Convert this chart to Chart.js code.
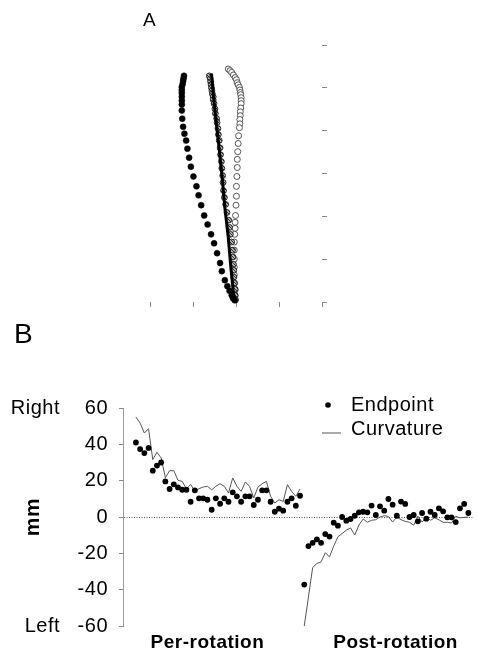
<!DOCTYPE html>
<html><head><meta charset="utf-8">
<script src="https://cdn.jsdelivr.net/npm/chart.js@4.4.0/dist/chart.umd.min.js"></script>
<style>
html,body{margin:0;padding:0;background:#fff;width:477px;height:651px;overflow:hidden;}
.lbl{position:absolute;font-family:'Liberation Sans',Arial,sans-serif;color:#000;line-height:1;}
#boxA{position:absolute;left:0;top:0;width:477px;height:320px;}
#boxB{position:absolute;left:0;top:330px;width:477px;height:321px;}
</style></head><body>
<div id="boxA"><canvas id="chartA" width="477" height="320"></canvas></div>
<div id="boxB"><canvas id="chartB" width="477" height="321"></canvas></div>
<div class="lbl" style="left:143px;top:10px;font-size:19px;">A</div>
<div class="lbl" style="left:14px;top:320px;font-size:28px;">B</div>
<script>
// ---------- Panel A: hand paths ----------
const filledX = [0.79,0.78,0.77,0.76,0.74,0.74,0.74,0.74,0.74,0.74,0.74,0.75,0.77,0.80,0.84,0.87,0.91,0.95,1.01,1.08,1.13,1.19,1.26,1.34,1.42,1.49,1.56,1.63,1.67,1.74,1.80,1.85,1.90,1.93,1.97];
const filledY = [5.28,5.22,5.16,5.09,5.02,4.95,4.88,4.79,4.70,4.61,4.47,4.28,4.09,3.93,3.77,3.58,3.37,3.16,2.93,2.70,2.49,2.26,2.02,1.81,1.58,1.37,1.14,0.91,0.72,0.51,0.37,0.26,0.16,0.09,0.04];
const hatchedX = [1.38,1.40,1.41,1.42,1.43,1.44,1.45,1.47,1.47,1.49,1.51,1.52,1.55,1.56,1.58,1.59,1.61,1.63,1.64,1.66,1.67,1.69,1.70,1.71,1.73,1.76,1.79,1.83,1.85,1.87,1.90,1.92,1.93,1.94,1.95,1.95,1.96,1.98,1.98,1.99];
const hatchedY = [5.28,5.21,5.14,5.07,5.00,4.93,4.86,4.79,4.72,4.63,4.51,4.40,4.28,4.19,4.05,3.91,3.77,3.60,3.44,3.28,3.12,2.95,2.79,2.60,2.44,2.28,2.09,1.91,1.74,1.58,1.40,1.21,1.05,0.88,0.74,0.58,0.44,0.30,0.16,0.05];
const openX = [1.82,1.86,1.90,1.94,1.98,2.01,2.03,2.05,2.08,2.09,2.10,2.11,2.12,2.12,2.12,2.11,2.10,2.10,2.09,2.09,2.08,2.06,2.05,2.04,2.03,2.03,2.02,2.01,2.01,2.00,1.99,1.98,1.98,1.97,1.96,1.96,1.96,1.96,1.96,1.97,1.98,1.98];
const openY = [5.44,5.40,5.36,5.30,5.24,5.19,5.12,5.07,5.01,4.95,4.89,4.84,4.77,4.70,4.63,4.53,4.44,4.35,4.26,4.16,4.07,3.88,3.70,3.51,3.33,3.14,2.93,2.70,2.47,2.26,2.02,1.86,1.72,1.58,1.40,1.21,1.00,0.81,0.63,0.44,0.28,0.14];
const pathX = [1.43,1.47,1.57,1.67,1.74,1.82,1.88,1.94,1.97];
const pathY = [5.33,4.86,3.93,3.00,2.21,1.51,0.81,0.21,0.05];

// ---------- Panel B: trial data (mm) ----------
const perEndpoint = [41,37.4,35.2,38,25.5,28.3,30,19.6,15.4,18,16.3,15,15,8.4,14.7,10.3,10.3,9.5,4,10.3,7.3,10.3,8.4,13.6,11.4,8.4,11.4,11.4,6.6,9.5,14.7,14.7,8.4,2.9,4.6,3.5,8.4,10.3,6.2,11.7];
const perCurvature = [55,51.7,46.2,48.6,31.6,35.6,32.5,21.6,25.5,25.5,20.2,19.6,15.4,18,14.1,15.6,16.5,16.9,15,16.9,18.3,16.9,13.2,21.5,16.9,14.1,19.3,16.9,10.5,16.5,18.3,19.6,11.4,7.7,9.5,8.6,17.8,14.1,11.4,15.4];
const postEndpoint = [-37.2,-16,-14.2,-12.3,-14.2,-9.4,-10.8,-3.1,-4.8,0,-2,-1.1,0.7,2.6,2.9,2.6,6.3,1.1,5.9,3.5,9.9,6.8,0.7,8.5,7.2,0,1.1,-2.4,2.2,-0.9,2.9,1.1,4.8,3.1,-0.2,-0.2,-2.8,4.8,7.2,2.2];
const postCurvature = [-60,-44,-27.8,-25.6,-24.7,-19.7,-21.9,-16,-10.9,-9.1,-7.2,-6,-9.9,-4.4,-1.1,-2.9,-1.8,-1.5,0,0.7,0.3,-2.8,0,-1.5,-2.4,-2.9,-4.5,0.4,-2.8,-0.2,-1.8,-0.5,-1.5,-2.9,-2.9,-3.3,0.4,-0.5,-0.2,0];
const phaseLabels = ['Per-rotation','Post-rotation'];
const sideLabels = ['Left','Right'];
const yTitle = 'mm';
const legendLabels = ['Endpoint','Curvature'];

const FONT = "'Liberation Sans', Arial, sans-serif";
Chart.defaults.font.family = FONT;
Chart.defaults.color = '#000';

function zip(xs, ys){ return xs.map((x,i)=>({x:x, y:ys[i]})); }

function makeHatch(){
  const c = document.createElement('canvas'); c.width = 3; c.height = 3;
  const g = c.getContext('2d');
  g.fillStyle = '#b0b0b0'; g.fillRect(0,0,3,3);
  g.fillStyle = '#333'; g.fillRect(0,0,1,1); g.fillRect(1,1,1,1); g.fillRect(2,2,1,1);
  return g.createPattern(c,'repeat');
}

new Chart(document.getElementById('chartA'), {
  type: 'scatter',
  data: { datasets: [
    { label:'Filled', data: zip(filledX, filledY), pointRadius:3, backgroundColor:'#000', borderColor:'#000', borderWidth:0.5, order:0, clip:false },
    { label:'Path', type:'line', data: zip(pathX, pathY), showLine:true, borderColor:'#000', borderWidth:3, pointRadius:0, fill:false, order:1, clip:false },
    { label:'Hatched', data: zip(hatchedX, hatchedY), pointRadius:2.9, backgroundColor: makeHatch(), borderColor:'#222', borderWidth:0.9, order:2, clip:false },
    { label:'Open', data: zip(openX, openY), pointRadius:3, backgroundColor:'#fff', borderColor:'#444', borderWidth:0.9, order:3, clip:false }
  ]},
  options: {
    responsive:false, animation:false,
    layout:{ padding:{ left:150, top:45, right:0, bottom:0 } },
    plugins:{ legend:{display:false}, tooltip:{enabled:false} },
    scales:{
      x:{ type:'linear', min:0, max:4, position:'bottom',
          ticks:{ display:false, stepSize:1 },
          grid:{ drawOnChartArea:false, drawTicks:true, tickLength:5, color:'#888', lineWidth:1 },
          border:{ display:false },
          afterFit(s){ s.height = 18; } },
      y:{ type:'linear', min:0, max:6, position:'right',
          ticks:{ display:false, stepSize:1 },
          grid:{ drawOnChartArea:false, drawTicks:true, tickLength:5, color:'#888', lineWidth:1 },
          border:{ display:false },
          afterFit(s){ s.width = 155; } }
    }
  }
});

const spacingPlugin = {
  id:'spacing',
  beforeDraw(chart){ chart.ctx.letterSpacing = '0.5px'; }
};

const legendPlugin = {
  id:'legendB',
  afterDraw(chart){
    const {ctx, chartArea:a} = chart;
    ctx.save();
    ctx.letterSpacing = '0.5px';
    ctx.font = '20px ' + FONT;
    ctx.fillStyle = '#000';
    ctx.textBaseline = 'middle';
    ctx.textAlign = 'left';
    // Endpoint marker
    ctx.beginPath(); ctx.arc(a.left + 205, a.top - 3, 2.8, 0, Math.PI*2); ctx.fill();
    ctx.fillText(legendLabels[0], a.left + 228, a.top - 3);
    // Curvature sample
    ctx.strokeStyle = '#555'; ctx.lineWidth = 1;
    ctx.beginPath(); ctx.moveTo(a.left + 199, a.top + 25); ctx.lineTo(a.left + 218, a.top + 25); ctx.stroke();
    ctx.fillText(legendLabels[1], a.left + 228, a.top + 21);
    ctx.restore();
  }
};

const nPer = perEndpoint.length;
new Chart(document.getElementById('chartB'), {
  type: 'scatter',
  data: { datasets: [
    { label:'Endpoint', data: perEndpoint.map((v,i)=>({x:i, y:v})), pointRadius:2.9, backgroundColor:'#000', borderColor:'#000', borderWidth:0, order:0 },
    { label:'Endpoint post', data: postEndpoint.map((v,i)=>({x:i+nPer, y:v})), pointRadius:2.9, backgroundColor:'#000', borderColor:'#000', borderWidth:0, order:0 },
    { label:'Curvature', type:'line', data: perCurvature.map((v,i)=>({x:i, y:v})), showLine:true, borderColor:'#555', borderWidth:1, pointRadius:0, fill:false, order:1 },
    { label:'Curvature post', type:'line', data: postCurvature.map((v,i)=>({x:i+nPer, y:v})), showLine:true, borderColor:'#555', borderWidth:1, pointRadius:0, fill:false, order:1 }
  ]},
  options: {
    responsive:false, animation:false,
    layout:{ padding:{ left:0, top:78, right:2, bottom:0 } },
    plugins:{ legend:{display:false}, tooltip:{enabled:false} },
    scales:{
      x:{ type:'linear', min:-3.07, max:80.1, position:'bottom',
          afterBuildTicks(s){ s.ticks = [17, 61.7].map(v=>({value:v})); },
          ticks:{ callback:(v,i)=>phaseLabels[i], font:{size:19, weight:'bold'}, color:'#000', padding:-3, maxRotation:0, autoSkip:false },
          grid:{ display:false }, border:{ display:false },
          afterFit(s){ s.height = 25; } },
      y:{ type:'linear', min:-60, max:60, position:'left', weight:0,
          ticks:{ stepSize:20, font:{size:20}, color:'#000', padding:11 },
          grid:{ drawOnChartArea:true, drawTicks:true, tickLength:4,
                 color:(c)=> (c.tick && c.tick.value===0) ? '#555' : 'rgba(0,0,0,0)',
                 tickColor:'#888', lineWidth:1 },
          border:{ display:true, color:'#999', width:1, dash:[1,1.5] },
          afterFit(s){ s.width = 51; } },
      ySide:{ type:'linear', min:-60, max:60, position:'left', weight:1,
          afterBuildTicks(s){ s.ticks = [-60, 60].map(v=>({value:v})); },
          ticks:{ callback:(v,i)=>sideLabels[i], font:{size:20}, color:'#000', padding:4 },
          grid:{ display:false }, border:{ display:false },
          title:{ display:true, text:yTitle, font:{size:21, weight:'bold'}, color:'#000', padding:{top:21, bottom:0} },
          afterFit(s){ s.width = 72; } }
    }
  },
  plugins:[spacingPlugin, legendPlugin]
});
</script>
</body></html>
